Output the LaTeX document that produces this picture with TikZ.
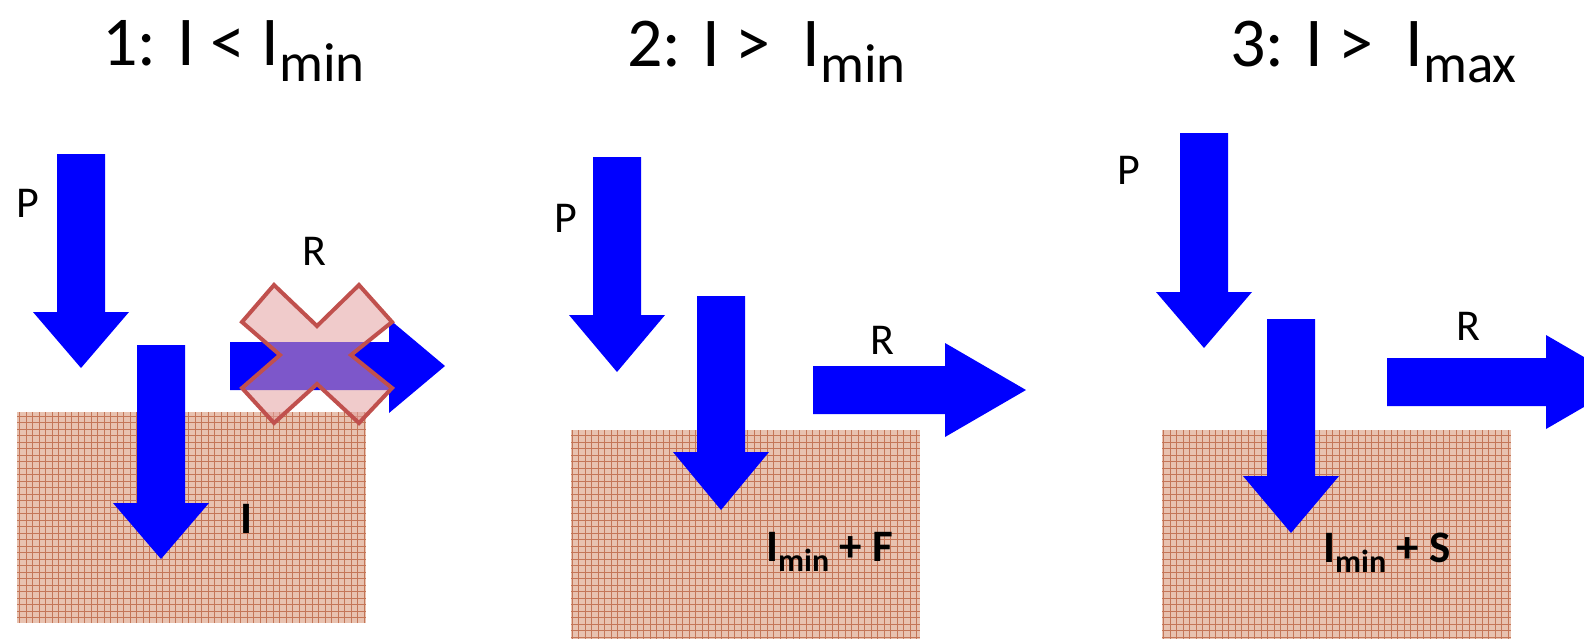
\documentclass[tikz,border=0pt]{standalone}
\usepackage{fontspec}
\setmainfont{Carlito}
\definecolor{arrowblue}{RGB}{0,0,255}
\definecolor{soilfill}{RGB}{232,194,176}
\definecolor{soilgrid}{RGB}{196,118,88}
\definecolor{crossline}{RGB}{192,80,77}
\definecolor{crossfill}{RGB}{228,160,160}
% lowered subscript, size given in pt
\newcommand{\lowsub}[2]{\raisebox{-0.23em}{\fontsize{#1}{#1}\selectfont #2}}
\begin{document}
\begin{tikzpicture}[x=1pt,y=-1pt,
		headtext/.style={anchor=base west,inner sep=0pt,font=\fontsize{70}{76}\selectfont},
		forcetext/.style={anchor=base,inner sep=0pt,font=\fontsize{44}{50}\selectfont},
		boldtext/.style={anchor=base west,inner sep=0pt,font=\fontsize{45}{50}\selectfont\bfseries},
		soil/.style={fill=soilfill}]
			\useasboundingbox (0,0) rectangle (1584,638);
			\clip (0,0) rectangle (1584,638);
			% ground boxes
			\foreach \xa/\ya/\xb/\yb in {17/412/366/623, 571/430/920/640, 1162/430/1511/640}{
				\fill[soil] (\xa,\ya) rectangle (\xb,\yb);
				\draw[soilgrid,line width=1pt,step=6.5pt] (\xa,\ya) grid (\xb,\yb);
			}
			% titles
			\node[headtext] (title1) at (102,65) {1: I < I\lowsub{55}{min}};
			\node[headtext] (title2) at (627,66) {2: I >\ \ I\lowsub{55}{min}};
			\node[headtext] (title3) at (1230,66) {3: I >\ \ I\lowsub{55}{max}};
			% downward arrows: centre x, top, head, tip
			\foreach \cx/\yt/\yh/\yp in {81/154/312/368, 161/345/503/559, 617/157/315/372, 721/296/452/510, 1204/133/292/348, 1291/319/476/533}{
				\fill[arrowblue] (\cx-24,\yt) -- (\cx+24,\yt) -- (\cx+24,\yh) -- (\cx+48,\yh) -- (\cx,\yp) -- (\cx-48,\yh) -- (\cx-24,\yh) -- cycle;
			}
			% arrows to the right: left x, centre y, head, tip
			\foreach \xl/\cy/\xh/\xp in {230/366/389/445, 813/390/945/1026, 1387/382/1546/1627}{
				\fill[arrowblue] (\xl,\cy-24) -- (\xh,\cy-24) -- (\xh,\cy-47) -- (\xp,\cy) -- (\xh,\cy+47) -- (\xh,\cy+24) -- (\xl,\cy+24) -- cycle;
			}
			% labels
			\node[forcetext] (p1) at (28,217) {P};
			\node[forcetext] (p2) at (566,232) {P};
			\node[forcetext] (p3) at (1129,184) {P};
			\node[forcetext] (r1) at (314,265) {R};
			\node[forcetext] (r2) at (882,354) {R};
			\node[forcetext] (r3) at (1468,340) {R};
			\node[boldtext] (i1) at (240,533) {I};
			\node[boldtext] (i2) at (766,561) {I\lowsub{32}{min} + F};
			\node[boldtext] (i3) at (1323,562) {I\lowsub{32}{min} + S};
			% cross over the blocked arrow
			\filldraw[draw=crossline,fill=crossfill,fill opacity=0.55,line width=4pt,line join=miter]
				(242,322) -- (274,285) -- (317,326) -- (359,285) -- (392,322) -- (351,355)
				-- (392,388) -- (359,423) -- (317,384) -- (274,423) -- (242,388) -- (280,355) -- cycle;
		\end{tikzpicture}
\end{document}
